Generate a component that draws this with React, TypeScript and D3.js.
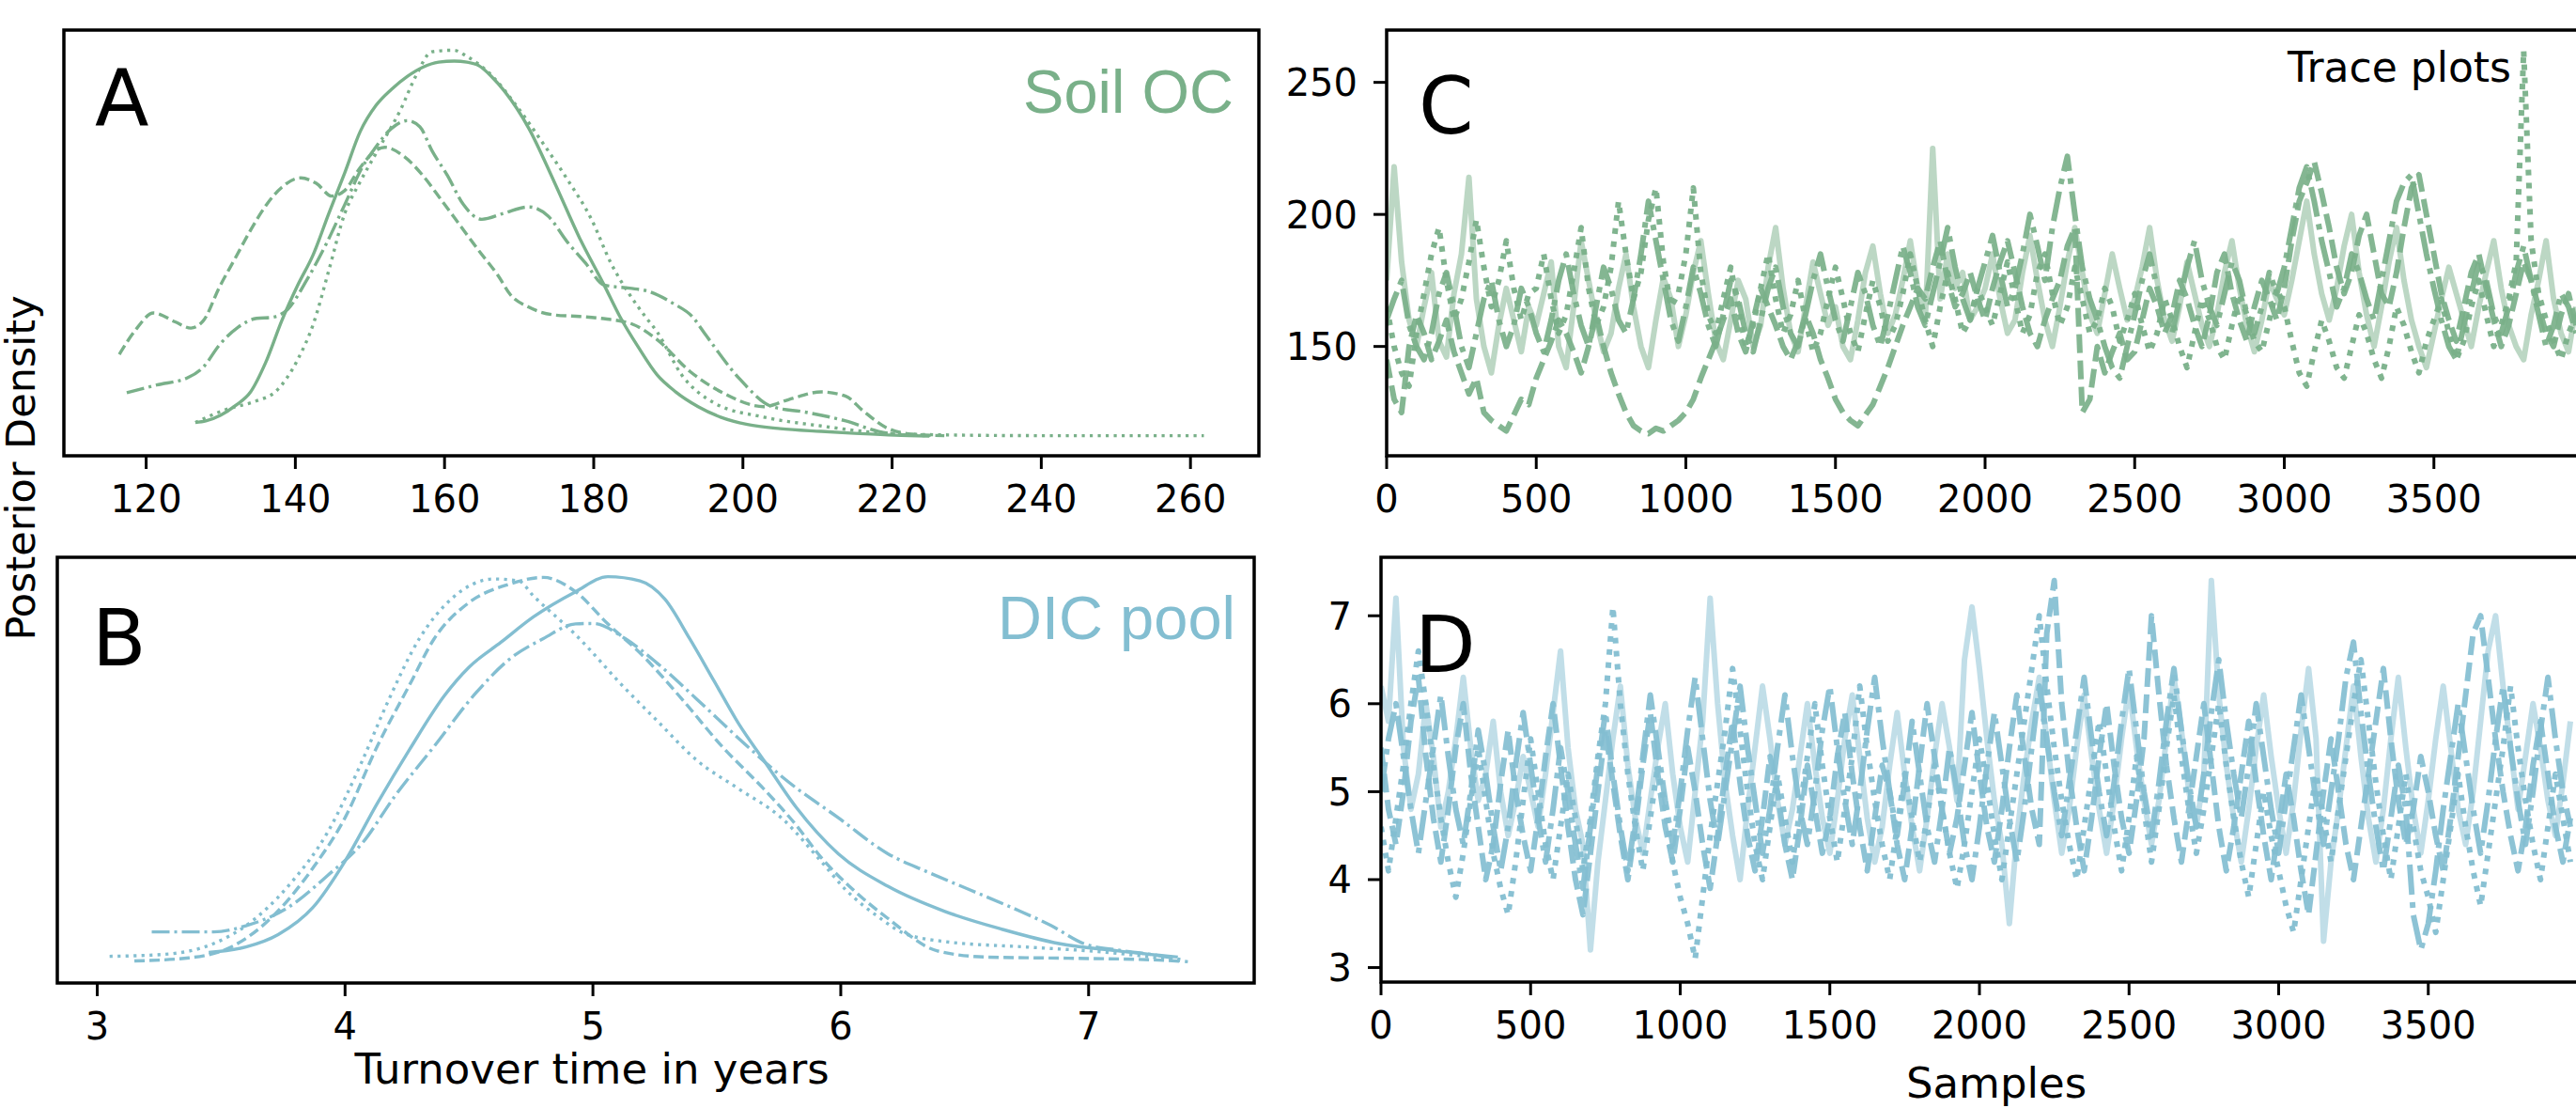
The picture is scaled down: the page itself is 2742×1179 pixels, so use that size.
import React from "react";
import * as d3 from "d3";

const GREEN = "#79b089";
const BLUE = "#83bed1";
const FONT = "DejaVu Sans, sans-serif";

// posterior densities, panel A (turnover years, relative density)
const soilSolid: [number, number][] = [
  [126.6, 0.036], [128, 0.04], [130, 0.055], [132, 0.08], [134, 0.115], [136, 0.19], [138.2, 0.3],
  [140.3, 0.39], [142.4, 0.47], [144.5, 0.577], [146.6, 0.68], [148.7, 0.788], [150.8, 0.855],
  [152.9, 0.897], [155, 0.93], [157.1, 0.954], [159.2, 0.967], [161.3, 0.97], [163, 0.967],
  [164.6, 0.958], [166.3, 0.93], [168, 0.893], [171.3, 0.796], [174.7, 0.658], [178.1, 0.513],
  [181.4, 0.391], [183.5, 0.31], [186, 0.23], [188.5, 0.159], [191, 0.115], [194, 0.077],
  [197, 0.05], [200.6, 0.031], [205, 0.02], [210.5, 0.013], [215, 0.008], [220.4, 0.003], [225, 0.001],
];
const soilDashed: [number, number][] = [
  [116.4, 0.212], [118.5, 0.273], [121, 0.319], [123.9, 0.296], [126, 0.28], [127.7, 0.3],
  [129.8, 0.385], [131.9, 0.459], [134, 0.533], [136.1, 0.598], [138.2, 0.644], [140.7, 0.668],
  [142.8, 0.654], [144.9, 0.621], [146.6, 0.635], [148.7, 0.695], [150.8, 0.739], [152, 0.747],
  [154.6, 0.723], [157.1, 0.674], [159.6, 0.61], [162.1, 0.545], [164.6, 0.48], [167.2, 0.415],
  [168.8, 0.367], [171.3, 0.334], [174.7, 0.314], [178.1, 0.31], [181, 0.305], [185.2, 0.29],
  [188.5, 0.25], [192.9, 0.168], [197.3, 0.113], [202.8, 0.077], [206.1, 0.095], [210.5, 0.115],
  [213.8, 0.104], [216, 0.068], [219.3, 0.022], [222.6, 0.006], [227, 0.002],
];
const soilDashDot: [number, number][] = [
  [117.4, 0.113], [121.4, 0.133], [125.6, 0.152], [127.7, 0.18], [129.8, 0.236], [132.3, 0.282],
  [134.8, 0.305], [136.9, 0.308], [139, 0.329], [141.5, 0.403], [144.1, 0.496], [146.6, 0.598],
  [149.1, 0.7], [150.5, 0.74], [152.9, 0.796], [155, 0.816], [156.7, 0.8], [158.3, 0.739],
  [160.4, 0.674], [162.5, 0.6], [165, 0.561], [168, 0.577], [171.3, 0.593], [173.9, 0.569],
  [176.4, 0.504], [178.9, 0.448], [181.4, 0.391], [184.8, 0.383], [187.3, 0.375], [190.7, 0.343],
  [193.2, 0.31], [195.1, 0.26], [199.5, 0.15], [203.9, 0.077], [208.3, 0.063], [213.8, 0.04],
  [218.2, 0.013], [221.5, 0.004], [224.8, 0.002],
];
const soilDotted: [number, number][] = [
  [126.6, 0.036], [130.6, 0.069], [134.8, 0.092], [137.3, 0.115], [140.3, 0.198], [142.4, 0.29],
  [144.5, 0.43], [146.6, 0.575], [148.6, 0.655], [150.8, 0.731], [154.1, 0.844], [156.2, 0.933],
  [158.3, 0.994], [161.2, 0.998], [163, 0.982], [166.3, 0.933], [169.7, 0.853], [173, 0.763],
  [176.4, 0.666], [179.7, 0.561], [182.3, 0.448], [184.8, 0.367], [186.9, 0.31], [188.5, 0.27],
  [191.8, 0.159], [196.2, 0.086], [202.8, 0.05], [210.5, 0.027], [219.3, 0.008], [227, 0.004],
  [240, 0.002], [250, 0.002], [261.8, 0.002],
];

// posterior densities, panel B
const dicSolid: [number, number][] = [
  [3.45, 0.029], [3.6, 0.043], [3.73, 0.075], [3.87, 0.145], [4.0, 0.265], [4.13, 0.414],
  [4.26, 0.553], [4.4, 0.692], [4.5, 0.766], [4.63, 0.831], [4.76, 0.896], [4.93, 0.961],
  [5.06, 1.0], [5.19, 0.989], [5.29, 0.942], [5.39, 0.84], [5.49, 0.729], [5.59, 0.618],
  [5.69, 0.525], [5.82, 0.404], [5.99, 0.284], [6.19, 0.2], [6.42, 0.135], [6.65, 0.089],
  [6.88, 0.052], [7.12, 0.033], [7.36, 0.017],
];
const dicDashed: [number, number][] = [
  [3.15, 0.007], [3.37, 0.015], [3.54, 0.043], [3.7, 0.117], [3.87, 0.247], [4.0, 0.377],
  [4.13, 0.562], [4.26, 0.72], [4.36, 0.84], [4.5, 0.933], [4.66, 0.98], [4.8, 0.998],
  [4.93, 0.961], [5.06, 0.878], [5.19, 0.803], [5.36, 0.683], [5.52, 0.562], [5.69, 0.451],
  [5.82, 0.358], [5.92, 0.275], [6.05, 0.191], [6.19, 0.117], [6.39, 0.033], [6.59, 0.017],
  [6.92, 0.014], [7.25, 0.01], [7.38, 0.006],
];
const dicDashDot: [number, number][] = [
  [3.22, 0.082], [3.47, 0.082], [3.6, 0.098], [3.77, 0.145], [3.93, 0.228], [4.07, 0.312],
  [4.2, 0.432], [4.36, 0.562], [4.53, 0.701], [4.66, 0.785], [4.8, 0.84], [4.93, 0.878],
  [5.0, 0.879], [5.13, 0.84], [5.26, 0.776], [5.42, 0.683], [5.59, 0.581], [5.79, 0.469],
  [5.99, 0.377], [6.19, 0.284], [6.35, 0.237], [6.52, 0.191], [6.69, 0.145], [6.85, 0.098],
  [6.98, 0.052], [7.12, 0.035], [7.25, 0.024], [7.38, 0.01],
];
const dicDotted: [number, number][] = [
  [3.05, 0.019], [3.27, 0.024], [3.47, 0.052], [3.6, 0.098], [3.77, 0.2], [3.93, 0.34],
  [4.07, 0.525], [4.17, 0.673], [4.3, 0.84], [4.43, 0.943], [4.6, 0.994], [4.7, 0.989],
  [4.76, 0.95], [4.93, 0.85], [5.13, 0.711], [5.26, 0.627], [5.42, 0.525], [5.59, 0.451],
  [5.76, 0.377], [5.92, 0.265], [6.02, 0.191], [6.16, 0.117], [6.25, 0.08], [6.42, 0.057],
  [6.75, 0.043], [7.08, 0.029], [7.41, 0.004],
];

// trace values, one every 25 samples (panel C, soil OC)
const TRACE_STEP = 25;
const soilTraceSolid = [
  175, 218, 182, 160, 150, 165, 178, 152, 146, 170, 185, 214, 168, 150, 140, 158, 172, 160, 148, 165,
  158, 170, 182, 150, 142, 165, 190, 175, 160, 148, 155, 172, 185, 165, 150, 142, 160, 176, 168, 150,
  162, 178, 190, 170, 152, 145, 160, 175, 168, 150, 158, 180, 195, 172, 155, 148, 165, 182, 170, 158,
  165, 150, 145, 160, 178, 188, 170, 155, 162, 175, 190, 172, 160, 225, 168, 185, 172, 178, 160, 165,
  172, 185, 168, 155, 160, 178, 192, 175, 160, 150, 165, 182, 195, 178, 162, 155, 170, 185, 172, 160,
  168, 180, 195, 175, 160, 152, 165, 182, 170, 158, 150, 162, 178, 190, 172, 158, 148, 160, 175, 168,
  162, 175, 190, 205, 185, 170, 160, 172, 188, 200, 178, 162, 150, 165, 182, 195, 175, 160, 150, 142,
  155, 168, 180, 170, 160, 150, 165, 178, 190, 172, 158, 150, 145, 162, 175, 190, 168, 155, 148, 165,
];
const soilTraceDashed = [
  145, 130, 125, 150, 162, 155, 145, 152, 160, 148, 140, 132, 138, 125, 122, 120, 118, 124, 130, 128,
  138, 145, 152, 160, 155, 148, 140, 150, 162, 150, 140, 132, 125, 120, 118, 117, 119, 118, 120, 122,
  125, 130, 138, 145, 152, 160, 168, 155, 148, 160, 172, 165, 158, 150, 145, 152, 162, 155, 145, 138,
  130, 125, 122, 120, 124, 128, 135, 142, 150, 158, 165, 172, 168, 180, 190, 175, 165, 170, 178, 168,
  160, 172, 182, 190, 178, 165, 155, 150, 160, 168, 175, 188, 195, 125, 130, 150, 140, 148, 155, 145,
  148, 160, 172, 165, 155, 162, 175, 168, 158, 150, 162, 178, 185, 170, 160, 152, 165, 175, 168, 160,
  172, 190, 205, 212, 220, 208, 195, 180, 170, 178, 192, 200, 185, 170, 165, 178, 195, 210, 215, 200,
  185, 170, 160, 152, 165, 178, 185, 172, 160, 150, 158, 170, 182, 175, 165, 155, 150, 162, 170, 158,
];
const soilTraceDashDot = [
  160, 168, 175, 158, 150, 145, 155, 170, 178, 165, 150, 142, 155, 168, 175, 160, 150, 158, 172, 165,
  155, 148, 160, 175, 185, 170, 158, 150, 165, 180, 172, 160, 155, 168, 185, 205, 190, 175, 160, 152,
  165, 180, 170, 158, 150, 162, 175, 168, 155, 148, 160, 172, 180, 165, 155, 150, 162, 175, 185, 172,
  160, 152, 165, 178, 170, 158, 150, 162, 175, 188, 178, 165, 158, 170, 182, 195, 180, 168, 160, 172,
  182, 192, 178, 165, 172, 185, 200, 188, 175, 195, 210, 222, 200, 180, 168, 160, 150, 142, 138, 150,
  162, 175, 185, 172, 160, 155, 168, 180, 190, 175, 165, 158, 170, 182, 175, 162, 155, 165, 178, 170,
  180, 195, 210, 218, 205, 190, 178, 165, 172, 185, 178, 168, 160, 175, 190, 205, 212, 215, 200, 185,
  172, 160, 150, 145, 158, 170, 182, 175, 162, 155, 165, 178, 188, 175, 162, 150, 158, 170, 165, 155,
];
const soilTraceDotted = [
  165, 150, 140, 135, 155, 170, 185, 195, 175, 160, 168, 182, 198, 180, 165, 175, 190, 172, 160, 170,
  172, 185, 168, 155, 162, 178, 195, 172, 158, 165, 180, 205, 185, 168, 178, 198, 210, 182, 165, 170,
  185, 210, 178, 162, 155, 168, 180, 165, 150, 158, 172, 185, 168, 155, 162, 175, 160, 148, 155, 168,
  180, 168, 155, 148, 162, 175, 165, 152, 158, 170, 185, 172, 160, 150, 165, 178, 168, 155, 160, 172,
  165, 158, 170, 182, 168, 155, 162, 178, 185, 170, 158, 165, 180, 168, 155, 160, 172, 165, 152, 160,
  170, 158, 148, 155, 168, 160, 150, 142, 155, 168, 160, 150, 145, 158, 170, 162, 152, 148, 160, 172,
  165, 152, 140, 135, 148, 160, 152, 142, 138, 150, 162, 155, 145, 138, 150, 165, 158, 148, 140, 152,
  160, 168, 155, 145, 152, 165, 175, 162, 150, 158, 168, 182, 262, 190, 170, 160, 152, 145, 155, 162,
];

// trace values, one every 25 samples (panel D, DIC pool)
const dicTraceSolid = [
  6.2, 5.8, 7.2, 5.5, 4.8, 5.2, 6.0, 5.4, 4.6, 5.0, 5.6, 6.3, 5.5, 4.9, 5.2, 5.8, 5.0, 4.5, 4.9, 5.4,
  5.0, 4.6, 5.2, 5.9, 6.6, 5.5, 4.8, 4.4, 3.2, 4.2, 4.9, 5.6, 6.2, 5.3, 4.7, 4.3, 4.9, 5.5, 6.0, 5.2,
  4.6, 4.2, 5.0, 5.8, 7.2, 6.0, 5.1, 4.5, 4.0, 4.8, 5.5, 6.2, 5.6, 4.9, 4.4, 4.8, 5.4, 6.0, 5.3, 4.7,
  4.3, 4.9, 5.6, 6.1, 5.4, 4.7, 4.2, 4.6, 5.3, 5.9, 5.2, 4.6, 4.1, 4.7, 5.4, 6.0, 5.5, 4.9, 6.5, 7.1,
  6.4, 5.6, 4.9, 4.4, 3.5, 4.5, 5.2, 5.8, 6.3, 5.6, 4.9, 4.3, 4.8, 5.5, 6.1, 5.4, 4.8, 4.3, 4.9, 5.6,
  6.2, 5.5, 4.9, 4.4, 4.9, 5.6, 6.3, 5.7, 5.0, 4.6, 5.2, 7.4, 6.1, 5.3, 4.7, 4.2, 4.8, 5.5, 6.1, 5.4,
  4.8, 4.3, 4.9, 5.7, 6.4, 5.6, 3.3, 4.2, 4.8, 5.5, 6.2, 5.4, 4.7, 4.2, 4.8, 5.6, 6.3, 5.5, 4.8, 4.3,
  4.9, 5.6, 6.2, 5.5, 4.8, 4.4, 5.0, 5.8, 6.6, 7.0, 6.2, 5.5, 4.8, 5.4, 6.0, 5.5, 4.9, 4.5, 5.1, 5.8,
];
const dicTraceDashed = [
  5.5, 4.8, 4.4, 5.0, 5.8, 6.3, 5.4, 4.7, 4.2, 4.8, 5.5, 6.0, 5.2, 4.6, 4.0, 4.4, 5.1, 5.7, 5.0, 4.5,
  4.1, 4.7, 5.4, 6.0, 5.3, 4.6, 4.0, 3.6, 4.3, 5.0, 5.7, 5.1, 4.5, 4.0, 4.6, 5.3, 5.9, 5.2, 4.6, 4.2,
  4.8, 5.5, 5.0, 4.4, 3.9, 4.5, 5.2, 5.8, 5.1, 4.5, 4.1, 4.7, 5.4, 5.0, 4.4, 4.0, 4.6, 5.3, 4.8, 4.3,
  4.7, 5.4, 5.9, 5.2, 4.6, 4.1, 4.7, 5.3, 5.0, 4.4, 4.0, 4.6, 5.3, 6.0, 5.4, 4.8, 4.3, 4.7, 5.3, 5.9,
  5.2, 4.6, 4.2, 4.8, 5.5, 6.1, 5.4, 4.8, 4.4, 6.8, 7.4, 6.0, 5.2, 4.6, 4.1, 4.7, 5.4, 6.0, 5.3, 4.7,
  4.3, 4.9, 5.6, 7.0, 6.1, 5.3, 4.7, 4.2, 4.8, 5.4, 6.0, 5.3, 4.6, 4.1, 4.6, 5.2, 5.8, 5.1, 4.5, 4.0,
  4.6, 5.2, 4.7, 4.1, 3.6, 4.3, 5.0, 5.6, 5.0, 4.4, 4.0, 4.6, 5.2, 5.8, 6.4, 5.6, 4.9, 4.4, 4.8, 5.4,
  5.0, 4.5, 4.1, 4.7, 5.4, 6.1, 6.8, 7.0, 6.3, 5.6, 5.0, 4.5, 4.1, 4.6, 5.3, 5.8, 5.2, 4.6, 4.2, 4.7,
];
const dicTraceDashDot = [
  5.0, 5.6, 6.0, 5.4, 4.8, 4.3, 4.9, 5.5, 6.1, 5.4, 4.8, 4.4, 5.0, 5.7, 5.2, 4.6, 4.1, 4.6, 5.3, 5.9,
  5.3, 4.7, 4.2, 4.8, 5.5, 5.0, 4.4, 3.9, 4.6, 5.3, 5.9, 5.2, 4.6, 4.1, 4.7, 5.4, 6.1, 5.5, 4.9, 4.4,
  5.0, 5.7, 6.3, 5.6, 4.9, 4.4, 5.0, 5.6, 6.2, 5.5, 4.9, 4.3, 4.8, 5.5, 6.1, 5.4, 4.8, 4.4, 5.0, 5.7,
  6.2, 5.5, 4.9, 4.4, 5.0, 5.7, 6.3, 5.6, 5.0, 4.5, 5.1, 5.8, 5.2, 4.6, 4.2, 4.8, 5.5, 5.0, 4.4, 4.0,
  4.6, 5.3, 5.9, 5.3, 4.7, 4.2, 4.8, 5.5, 6.2, 5.6, 5.0, 4.5, 5.1, 5.7, 6.3, 5.6, 5.0, 4.5, 5.1, 5.8,
  6.4, 5.7, 5.0, 4.5, 5.1, 5.8, 6.4, 5.7, 5.1, 4.6, 5.2, 5.9, 6.5, 5.8, 5.2, 4.7, 5.3, 6.0, 5.4, 4.8,
  4.3, 4.9, 5.5, 6.1, 5.5, 4.9, 4.4, 5.0, 5.6, 6.3, 6.7, 5.9, 5.2, 4.6, 4.1, 4.7, 5.3, 4.8, 3.6, 3.2,
  3.5, 4.1, 4.8, 5.4, 6.0, 5.4, 4.8, 4.3, 4.9, 5.6, 6.2, 5.5, 4.9, 4.4, 5.0, 5.7, 6.3, 5.6, 5.0, 4.6,
];
const dicTraceDotted = [
  4.6, 4.1, 4.7, 5.3, 6.0, 6.6, 6.0, 5.3, 4.7, 4.2, 3.8, 4.3, 4.9, 5.5, 4.9, 4.3, 3.9, 3.6, 4.2, 4.9,
  5.6, 5.0, 4.4, 4.0, 4.6, 5.2, 4.7, 4.1, 4.7, 5.4, 6.0, 7.1, 6.0, 5.2, 4.6, 4.1, 4.7, 5.3, 4.8, 4.2,
  3.8, 3.5, 3.1, 3.8, 4.5, 5.1, 5.7, 6.4, 5.7, 5.0, 4.4, 4.0, 4.6, 5.2, 4.7, 4.2, 4.8, 5.4, 6.0, 5.3,
  4.7, 4.2, 4.8, 5.4, 6.2, 5.5, 4.9, 4.4, 4.0, 4.6, 5.2, 4.7, 4.2, 4.7, 5.3, 4.8, 4.3, 3.9, 4.4, 5.0,
  5.6, 5.1, 4.5, 4.0, 4.6, 5.2, 5.8, 6.4, 7.0, 6.2, 5.5, 4.9, 4.4, 4.0, 4.6, 5.2, 5.8, 5.2, 4.6, 4.1,
  4.7, 5.4, 4.8, 4.2, 4.8, 5.5, 6.1, 5.4, 4.8, 4.3, 4.8, 5.4, 6.0, 5.3, 4.7, 4.2, 3.8, 4.4, 5.0, 4.5,
  4.1, 3.7, 3.4, 4.0, 4.6, 5.2, 4.7, 4.2, 4.8, 5.4, 6.0, 6.5, 5.8, 5.1, 4.5, 4.0, 4.6, 5.2, 4.6, 4.1,
  3.8, 3.4, 4.0, 4.6, 5.2, 4.6, 4.1, 3.7, 4.3, 4.9, 5.5, 6.2, 5.5, 4.9, 4.4, 4.0, 4.6, 5.2, 4.7, 4.2,
];

const soilTicks = [120, 140, 160, 180, 200, 220, 240, 260];
const dicTicks = [3, 4, 5, 6, 7];
const sampleTicks = [0, 500, 1000, 1500, 2000, 2500, 3000, 3500];
const soilTraceTicks = [150, 200, 250];
const dicTraceTicks = [3, 4, 5, 6, 7];

type Box = { x0: number; x1: number; y0: number; y1: number };
const boxA: Box = { x0: 68, x1: 1340, y0: 32, y1: 485 };
const boxB: Box = { x0: 61, x1: 1335, y0: 593, y1: 1046 };
const boxC: Box = { x0: 1476, x1: 2750, y0: 32, y1: 485 };
const boxD: Box = { x0: 1470, x1: 2744, y0: 593, y1: 1045 };

const densityDash = ["none", "11,5", "19,5,3,5", "3.2,5.3"];
const traceDash = ["none", "20,8", "32,8,6,8", "6,8"];
const traceOpacity = [0.5, 0.92, 0.92, 0.95];

function Frame({ b }: { b: Box }) {
  return (
    <rect x={b.x0} y={b.y0} width={b.x1 - b.x0} height={b.y1 - b.y0}
      fill="none" stroke="#000" strokeWidth={3.5} />
  );
}

function XTicks({ b, scale, ticks }: { b: Box; scale: any; ticks: number[] }) {
  return (
    <g>
      {ticks.map((t) => (
        <g key={t}>
          <line x1={scale(t)} x2={scale(t)} y1={b.y1} y2={b.y1 + 14} stroke="#000" strokeWidth={3} />
          <text x={scale(t)} y={b.y1 + 60} textAnchor="middle" fontFamily={FONT} fontSize={40}>{t}</text>
        </g>
      ))}
    </g>
  );
}

function YTicks({ b, scale, ticks }: { b: Box; scale: any; ticks: number[] }) {
  return (
    <g>
      {ticks.map((t) => (
        <g key={t}>
          <line x1={b.x0 - 14} x2={b.x0} y1={scale(t)} y2={scale(t)} stroke="#000" strokeWidth={3} />
          <text x={b.x0 - 31} y={scale(t)} dy="0.36em" textAnchor="end" fontFamily={FONT} fontSize={40}>{t}</text>
        </g>
      ))}
    </g>
  );
}

function DensityPanel({ id, b, domain, curves, color }: {
  id: string; b: Box; domain: [number, number]; curves: [number, number][][]; color: string;
}) {
  const x = d3.scaleLinear().domain(domain).range([b.x0, b.x1]);
  const y = d3.scaleLinear().domain([-0.05, 1.05]).range([b.y1, b.y0]);
  const line = d3.line<[number, number]>().x((d) => x(d[0])).y((d) => y(d[1])).curve(d3.curveMonotoneX);
  return (
    <g>
      <clipPath id={id}><rect x={b.x0} y={b.y0} width={b.x1 - b.x0} height={b.y1 - b.y0} /></clipPath>
      <g clipPath={`url(#${id})`}>
        {curves.map((c, i) => (
          <path key={i} d={line(c) || ""} fill="none" stroke={color} strokeWidth={3.4}
            strokeDasharray={densityDash[i]} />
        ))}
      </g>
      <Frame b={b} />
    </g>
  );
}

function TracePanel({ id, b, yDomain, chains, color, yTicks }: {
  id: string; b: Box; yDomain: [number, number]; chains: number[][]; color: string; yTicks: number[];
}) {
  const x = d3.scaleLinear().domain([0, 4000]).range([b.x0, b.x1]);
  const y = d3.scaleLinear().domain(yDomain).range([b.y1, b.y0]);
  const line = d3.line<number>().x((_, i) => x(i * TRACE_STEP)).y((d) => y(d));
  return (
    <g>
      <clipPath id={id}><rect x={b.x0} y={b.y0} width={b.x1 - b.x0} height={b.y1 - b.y0} /></clipPath>
      <g clipPath={`url(#${id})`}>
        {chains.map((c, i) => (
          <path key={i} d={line(c) || ""} fill="none" stroke={color} strokeWidth={6}
            strokeOpacity={traceOpacity[i]} strokeDasharray={traceDash[i]} strokeLinejoin="round" />
        ))}
      </g>
      <Frame b={b} />
      <XTicks b={b} scale={x} ticks={sampleTicks} />
      <YTicks b={b} scale={y} ticks={yTicks} />
    </g>
  );
}

export default function App() {
  const xA = d3.scaleLinear().domain([108.97, 269.17]).range([boxA.x0, boxA.x1]);
  const xB = d3.scaleLinear().domain([2.839, 7.668]).range([boxB.x0, boxB.x1]);
  return (
    <svg width={2742} height={1179} style={{ position: "absolute", left: 0, top: 0, background: "#fff" }}>
      <rect width={2742} height={1179} fill="#fff" />
      <DensityPanel id="clipA" b={boxA} domain={[108.97, 269.17]} color={GREEN}
        curves={[soilSolid, soilDashed, soilDashDot, soilDotted]} />
      <XTicks b={boxA} scale={xA} ticks={soilTicks} />
      <DensityPanel id="clipB" b={boxB} domain={[2.839, 7.668]} color={BLUE}
        curves={[dicSolid, dicDashed, dicDashDot, dicDotted]} />
      <XTicks b={boxB} scale={xB} ticks={dicTicks} />
      <TracePanel id="clipC" b={boxC} yDomain={[108.6, 269.8]} color={GREEN} yTicks={soilTraceTicks}
        chains={[soilTraceSolid, soilTraceDashed, soilTraceDashDot, soilTraceDotted]} />
      <TracePanel id="clipD" b={boxD} yDomain={[2.835, 7.665]} color={BLUE} yTicks={dicTraceTicks}
        chains={[dicTraceSolid, dicTraceDashed, dicTraceDashDot, dicTraceDotted]} />

      <text x={101} y={134} fontFamily={FONT} fontSize={84}>A</text>
      <text x={98} y={708} fontFamily={FONT} fontSize={84}>B</text>
      <text x={1510} y={142} fontFamily={FONT} fontSize={84}>C</text>
      <text x={1506} y={715} fontFamily={FONT} fontSize={84}>D</text>

      <text x={1313} y={120} textAnchor="end" fontFamily="Liberation Sans, Arial, sans-serif"
        fontSize={65} fill={GREEN}>Soil OC</text>
      <text x={1315} y={680} textAnchor="end" fontFamily="Liberation Sans, Arial, sans-serif"
        fontSize={65} fill={BLUE}>DIC pool</text>
      <text x={2673} y={87} textAnchor="end" fontFamily={FONT} fontSize={44}>Trace plots</text>

      <text transform="translate(37,498) rotate(-90)" textAnchor="middle" fontFamily={FONT}
        fontSize={43}>Posterior Density</text>
      <text x={630} y={1153} textAnchor="middle" fontFamily={FONT} fontSize={45}>Turnover time in years</text>
      <text x={2125} y={1168} textAnchor="middle" fontFamily={FONT} fontSize={45}>Samples</text>
    </svg>
  );
}
